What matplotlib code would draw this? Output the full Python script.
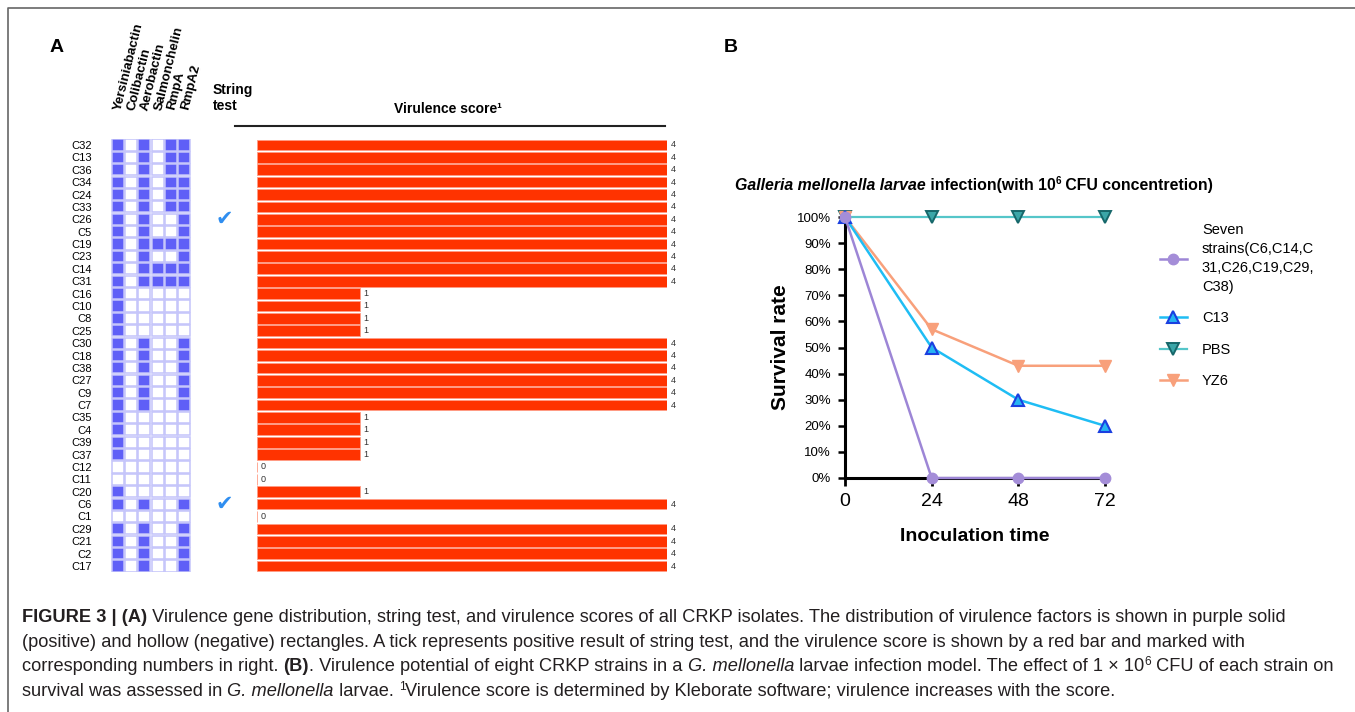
import matplotlib.pyplot as plt
from matplotlib import font_manager
from matplotlib.lines import Line2D
import matplotlib.transforms as mtransforms

plt.rcParams['font.family'] = ['Liberation Sans', 'DejaVu Sans']

# ---- panel A data ----
strains = ['C32', 'C13', 'C36', 'C34', 'C24', 'C33', 'C26', 'C5', 'C19', 'C23', 'C14', 'C31',
           'C16', 'C10', 'C8', 'C25', 'C30', 'C18', 'C38', 'C27', 'C9', 'C7', 'C35', 'C4',
           'C39', 'C37', 'C12', 'C11', 'C20', 'C6', 'C1', 'C29', 'C21', 'C2', 'C17']
genes = ['Yersiniabactin', 'Colibactin', 'Aerobactin', 'Salmonchelin', 'RmpA', 'RmpA2']
# 1 = positive (solid), 0 = negative (hollow); columns follow `genes`
gene_matrix = [
    [1, 0, 1, 0, 1, 1], [1, 0, 1, 0, 1, 1], [1, 0, 1, 0, 1, 1], [1, 0, 1, 0, 1, 1],
    [1, 0, 1, 0, 1, 1], [1, 0, 1, 0, 1, 1], [1, 0, 1, 0, 0, 1], [1, 0, 1, 0, 0, 1],
    [1, 0, 1, 1, 1, 1], [1, 0, 1, 0, 0, 1], [1, 0, 1, 1, 1, 1], [1, 0, 1, 1, 1, 1],
    [1, 0, 0, 0, 0, 0], [1, 0, 0, 0, 0, 0], [1, 0, 0, 0, 0, 0], [1, 0, 0, 0, 0, 0],
    [1, 0, 1, 0, 0, 1], [1, 0, 1, 0, 0, 1], [1, 0, 1, 0, 0, 1], [1, 0, 1, 0, 0, 1],
    [1, 0, 1, 0, 0, 1], [1, 0, 1, 0, 0, 1], [1, 0, 0, 0, 0, 0], [1, 0, 0, 0, 0, 0],
    [1, 0, 0, 0, 0, 0], [1, 0, 0, 0, 0, 0], [0, 0, 0, 0, 0, 0], [0, 0, 0, 0, 0, 0],
    [1, 0, 0, 0, 0, 0], [1, 0, 1, 0, 0, 1], [0, 0, 0, 0, 0, 0], [1, 0, 1, 0, 0, 1],
    [1, 0, 1, 0, 0, 1], [1, 0, 1, 0, 0, 1], [1, 0, 1, 0, 0, 1],
]
string_test = [0] * 6 + [1] + [0] * 22 + [1] + [0] * 5
scores = [4] * 12 + [1] * 4 + [4] * 6 + [1] * 4 + [0, 0, 1, 4, 0] + [4] * 4

# ---- panel B data ----
hours = [0, 24, 48, 72]
series_names = ['Seven\nstrains(C6,C14,C\n31,C26,C19,C29,\nC38)', 'C13', 'PBS', 'YZ6']
survival = {
    'seven': [100, 0, 0, 0],
    'C13': [100, 50, 30, 20],
    'PBS': [100, 100, 100, 100],
    'YZ6': [100, 57, 43, 43],
}

W, H = 1355, 712
fig = plt.figure(figsize=(W / 100, H / 100), dpi=100)


def fx(px):
    return px / W


def fy(py):
    return 1 - py / H


# frame
fig.add_artist(Line2D([fx(8), fx(8), fx(1355)], [fy(712), fy(8), fy(8)], color='#666666', lw=1.2))

fig.text(fx(57), fy(47), 'A', fontsize=14, fontweight='bold', ha='center', va='center')
fig.text(fx(731), fy(47), 'B', fontsize=14, fontweight='bold', ha='center', va='center')

# ---------- panel A ----------
row_top, row_bot = 138.8, 572.2
n = len(strains)
rows = list(range(n))
ax_h = fig.add_axes([fx(111), fy(row_bot), fx(191) - fx(111), (row_bot - row_top) / H])
ax_h.set_xlim(-0.5, 5.5)
ax_h.set_ylim(n - 0.5, -0.5)
for j in range(len(genes)):
    cols = ['#5f5ff7' if r[j] else 'white' for r in gene_matrix]
    ax_h.barh(rows, 0.9, left=j - 0.45, height=0.9, color=cols, edgecolor='#c3c3fa', linewidth=1.1)
ax_h.set_yticks(rows)
ax_h.set_yticklabels(strains, fontsize=8)
ax_h.tick_params(axis='y', length=0, pad=14)
ax_h.set_xticks([])
for s in ax_h.spines.values():
    s.set_visible(False)
trans = mtransforms.blended_transform_factory(ax_h.transData, ax_h.transAxes)
y_lab = (row_bot - 110) / (row_bot - row_top)
for j, g in enumerate(genes):
    ax_h.text(j + 0.05, y_lab, g, transform=trans, rotation=76, rotation_mode='anchor',
              ha='left', va='center', fontsize=9.5, fontweight='bold')

ax_s = fig.add_axes([fx(200), fy(row_bot), fx(250) - fx(200), (row_bot - row_top) / H])
ax_s.set_xlim(0, 1)
ax_s.set_ylim(n - 0.5, -0.5)
ax_s.axis('off')
for i, st in enumerate(string_test):
    if st:
        ax_s.text(0.48, i, '\u2714', color='#2f8ef0', fontsize=15, ha='center', va='center',
                  family='DejaVu Sans')
fig.text(fx(213), fy(98), 'String\ntest', fontsize=10, fontweight='bold', ha='left', va='center',
         linespacing=1.15)

ax_b = fig.add_axes([fx(257), fy(row_bot), fx(667) - fx(257), (row_bot - row_top) / H])
ax_b.set_xlim(0, 4)
ax_b.set_ylim(n - 0.5, -0.5)
ax_b.barh(rows, scores, height=0.86, color='#ff3300', edgecolor='#ff9c85', linewidth=0.6)
for i, sc in enumerate(scores):
    ax_b.annotate(str(sc), (sc, i), xytext=(2.5, 0), textcoords='offset points', fontsize=6.5,
                  va='center', ha='left', color='#333333')
ax_b.axis('off')
fig.add_artist(Line2D([fx(235), fx(665)], [fy(126), fy(126)], color='#222222', lw=1.5))
fig.text(fx(448), fy(109), 'Virulence score\u00b9', fontsize=10, fontweight='bold', ha='center', va='center')

# ---------- panel B ----------
axB = fig.add_axes([fx(845), fy(478), fx(1105) - fx(845), (478 - 217) / H])
axB.plot(hours, survival['PBS'], color='#55c6c9', lw=1.6, marker='v', ms=9,
         mfc='#3ba6a8', mec='#16676a', mew=1.4, clip_on=False, zorder=3, label=series_names[2])
axB.plot(hours, survival['YZ6'], color='#f8a07b', lw=1.8, marker='v', ms=9,
         mfc='#f8a07b', mec='#f8a07b', clip_on=False, zorder=4, label=series_names[3])
axB.plot(hours, survival['C13'], color='#1fbdf4', lw=1.8, marker='^', ms=9,
         mfc='#27b4f2', mec='#1a3fe0', mew=1.5, clip_on=False, zorder=5, label=series_names[1])
axB.plot(hours, survival['seven'], color='#9d86d6', lw=1.8, marker='o', ms=7.5,
         mfc='#a48dd8', mec='#a48dd8', clip_on=False, zorder=6, label=series_names[0])
axB.set_xlim(0, 72)
axB.set_ylim(0, 100)
axB.set_xticks(hours)
axB.set_xticklabels([str(h) for h in hours], fontsize=14)
axB.set_yticks(range(0, 101, 10))
axB.set_yticklabels([f'{v}%' for v in range(0, 101, 10)], fontsize=9.5)
axB.tick_params(axis='x', length=6, width=2, pad=5)
axB.tick_params(axis='y', length=5, width=1.8, pad=5)
for side in ['top', 'right']:
    axB.spines[side].set_visible(False)
for side in ['left', 'bottom']:
    axB.spines[side].set_linewidth(2.2)
axB.set_xlabel('Inoculation time', fontsize=14, fontweight='bold', labelpad=13)
axB.set_ylabel('Survival rate', fontsize=15, fontweight='bold', labelpad=5)

handles, labels = axB.get_legend_handles_labels()
order = [3, 2, 0, 1]
leg = axB.legend([handles[k] for k in order], [labels[k] for k in order], loc='center left',
                 bbox_to_anchor=(1.21, 0.66), frameon=False, fontsize=10.5, handlelength=1.9,
                 handletextpad=1.0, labelspacing=1.2, borderpad=0, borderaxespad=0)
leg.get_texts()[0].set_linespacing(1.45)

# ---------- rich text (title B and caption) ----------
renderer = fig.canvas.get_renderer()


def place(parts, x0, ybase, size, family, color):
    x = x0
    arts = []
    for txt, weight, style, rel, rise in parts:
        t = fig.text(fx(x), fy(ybase - rise), txt, fontsize=size * rel, fontweight=weight,
                     fontstyle=style, family=family, color=color, ha='left', va='baseline')
        x += t.get_window_extent(renderer=renderer).width
        arts.append(t)
    return x - x0, arts


def fitted(lines, x0, ys, size, family, color, target):
    w, arts = place(lines[0], x0, ys[0], size, family, color)
    for a in arts:
        a.remove()
    size = size * target / w
    for parts, yb in zip(lines, ys):
        place(parts, x0, yb, size, family, color)


title_parts = [('Galleria mellonella larvae', 'bold', 'italic', 1, 0),
               (' infection(with 10', 'bold', 'normal', 1, 0),
               ('6', 'bold', 'normal', 0.62, 6),
               (' CFU concentretion)', 'bold', 'normal', 1, 0)]
fitted([title_parts], 735, [190], 11, ['Liberation Sans', 'DejaVu Sans'], 'black', 480)

names = {f.name for f in font_manager.fontManager.ttflist}
cap_family = ['Liberation Sans Narrow'] if 'Liberation Sans Narrow' in names else ['Liberation Sans']
cap_lines = [
    [('FIGURE 3 | (A)', 'bold', 'normal', 1, 0),
     (' Virulence gene distribution, string test, and virulence scores of all CRKP isolates. '
      'The distribution of virulence factors is shown in purple solid', 'normal', 'normal', 1, 0)],
    [('(positive) and hollow (negative) rectangles. A tick represents positive result of string test, '
      'and the virulence score is shown by a red bar and marked with', 'normal', 'normal', 1, 0)],
    [('corresponding numbers in right. ', 'normal', 'normal', 1, 0),
     ('(B)', 'bold', 'normal', 1, 0),
     ('. Virulence potential of eight CRKP strains in a ', 'normal', 'normal', 1, 0),
     ('G. mellonella', 'normal', 'italic', 1, 0),
     (' larvae infection model. The effect of 1 \u00d7 10', 'normal', 'normal', 1, 0),
     ('6', 'normal', 'normal', 0.65, 6),
     (' CFU of each strain on', 'normal', 'normal', 1, 0)],
    [('survival was assessed in ', 'normal', 'normal', 1, 0),
     ('G. mellonella', 'normal', 'italic', 1, 0),
     (' larvae. ', 'normal', 'normal', 1, 0),
     ('1', 'normal', 'normal', 0.65, 6),
     ('Virulence score is determined by Kleborate software; virulence increases with the score.',
      'normal', 'normal', 1, 0)],
]
fitted(cap_lines, 22, [622, 647, 671, 696], 12, cap_family, '#231f20', 1268)

fig.savefig('out.png', dpi=100)
